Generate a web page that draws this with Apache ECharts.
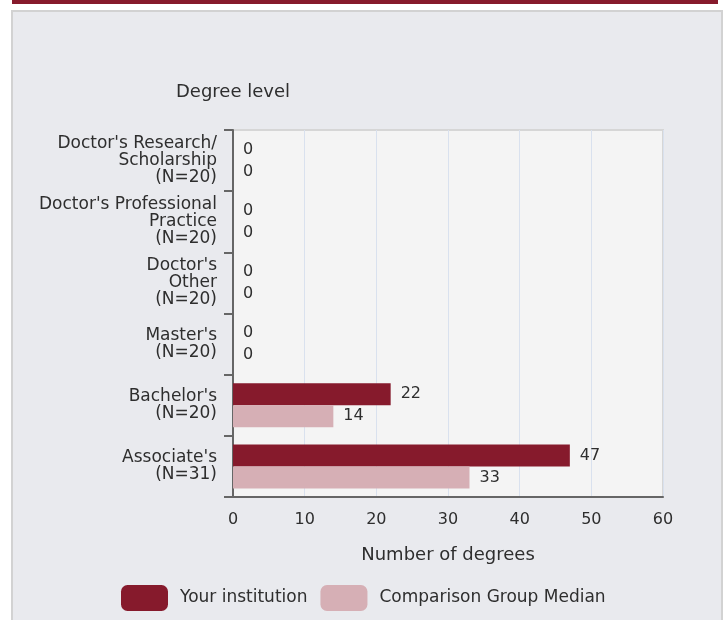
<!DOCTYPE html>
<html>
<head>
<meta charset="utf-8">
<script src="https://cdn.jsdelivr.net/npm/echarts@6/dist/echarts.min.js"></script>
<style>
  html, body { margin: 0; padding: 0; background: #ffffff; }
  #degrees { width: 725px; height: 620px; }
</style>
</head>
<body>
<div id="degrees"></div>
<script>
  // categories top to bottom
  var degreeLevels = [
    "Doctor's Research/\nScholarship\n(N=20)",
    "Doctor's Professional\nPractice\n(N=20)",
    "Doctor's\nOther\n(N=20)",
    "Master's\n(N=20)",
    "Bachelor's\n(N=20)",
    "Associate's\n(N=31)"
  ];
  var yourInstitution = [0, 0, 0, 0, 22, 47];
  var comparisonMedian = [0, 0, 0, 0, 14, 33];
  var seriesNames = ['Your institution', 'Comparison Group Median'];
  var xTicks = { min: 0, max: 60, interval: 10 };

  var fontName = 'DejaVu Sans';
  var textColor = '#2e2e2e';
  var darkRed = '#861a2c';
  var lightRed = '#d6afb5';

  var chart = echarts.init(document.getElementById('degrees'));

  function valueLabel() {
    return {
      show: true,
      position: 'right',
      distance: 10,
      color: textColor,
      fontFamily: fontName,
      fontSize: 16
    };
  }

  chart.setOption({
    animation: false,
    backgroundColor: '#ffffff',
    graphic: [
      // panel behind the chart
      {
        type: 'rect', z: -10, silent: true,
        shape: { x: 12, y: 11, width: 710, height: 620 },
        style: { fill: '#e9eaee', stroke: '#d2d2d2', lineWidth: 2 }
      },
      // top stripe
      {
        type: 'rect', z: -10, silent: true,
        shape: { x: 12, y: 0, width: 706, height: 4 },
        style: { fill: darkRed }
      }
    ],
    legend: {
      left: 121,
      top: 585,
      padding: 0,
      icon: 'roundRect',
      itemWidth: 47,
      itemHeight: 26,
      itemGap: 13,
      textStyle: { color: textColor, fontFamily: fontName, fontSize: 17, padding: [0, 0, 0, 7] },
      data: seriesNames
    },
    grid: {
      left: 233,
      right: 62,
      top: 130,
      bottom: 123,
      show: true,
      backgroundColor: '#f4f4f4',
      borderColor: '#d6d6d6',
      borderWidth: 2
    },
    xAxis: {
      type: 'value',
      min: xTicks.min,
      max: xTicks.max,
      interval: xTicks.interval,
      name: 'Number of degrees',
      nameLocation: 'middle',
      nameGap: 49,
      nameTextStyle: { color: textColor, fontFamily: fontName, fontSize: 18 },
      axisLine: { show: true, lineStyle: { color: '#666', width: 2 } },
      axisTick: { show: false },
      axisLabel: { color: textColor, fontFamily: fontName, fontSize: 16, margin: 15 },
      splitLine: { show: true, lineStyle: { color: '#d9e1ee', width: 1 } }
    },
    yAxis: {
      type: 'category',
      inverse: true,
      data: degreeLevels,
      name: 'Degree level',
      nameLocation: 'start',
      nameGap: 29,
      nameTextStyle: { color: textColor, fontFamily: fontName, fontSize: 18 },
      axisLine: { show: true, lineStyle: { color: '#666', width: 2 } },
      axisTick: { show: true, length: 9, lineStyle: { color: '#666', width: 2 } },
      axisLabel: {
        color: textColor, fontFamily: fontName, fontSize: 17,
        lineHeight: 17, margin: 16, align: 'right'
      },
      splitLine: { show: false }
    },
    series: [
      {
        name: seriesNames[0],
        type: 'bar',
        data: yourInstitution,
        barGap: '0%',
        barCategoryGap: '28%',
        itemStyle: { color: darkRed },
        label: valueLabel()
      },
      {
        name: seriesNames[1],
        type: 'bar',
        data: comparisonMedian,
        itemStyle: { color: lightRed },
        label: valueLabel()
      }
    ]
  });
</script>
</body>
</html>
